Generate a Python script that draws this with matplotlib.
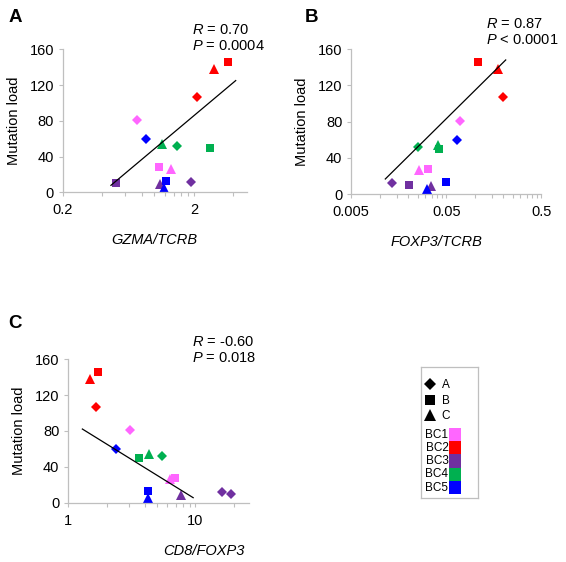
import matplotlib
matplotlib.use("Agg")
import matplotlib.pyplot as plt
from matplotlib.ticker import FixedLocator, FixedFormatter, NullFormatter
from matplotlib.patches import Rectangle

plt.rcParams['font.family'] = 'Liberation Sans'
plt.rcParams['mathtext.fontset'] = 'custom'
plt.rcParams['mathtext.rm'] = 'Liberation Sans'
plt.rcParams['mathtext.it'] = 'Liberation Sans:italic'

# tumour groups and biopsies A/B/C
groups = ["BC1", "BC1", "BC1", "BC2", "BC2", "BC2", "BC3", "BC3", "BC3",
          "BC4", "BC4", "BC4", "BC5", "BC5", "BC5"]
biopsy = ["A", "B", "C"] * 5
mutation_load = [81, 28, 26, 107, 146, 138, 12, 10, 9, 52, 50, 54, 60, 13, 5]

gzma_tcrb = [0.74, 1.08, 1.33, 2.1, 3.64, 2.86, 1.92, 0.505, 1.11,
             1.49, 2.66, 1.15, 0.855, 1.23, 1.18]
foxp3_tcrb = [0.070, 0.032, 0.0256, 0.197, 0.107, 0.174, 0.0135, 0.0202, 0.0342,
              0.0249, 0.0419, 0.0412, 0.0647, 0.05, 0.031]
cd8_foxp3 = [3.07, 6.90, 6.30, 1.66, 1.71, 1.47, 16.2, 19.1, 7.63,
             5.49, 3.59, 4.32, 2.36, 4.24, 4.24]

# trend lines as drawn in the figure
fit_a_x, fit_a_y = [0.465, 4.18], [7.8, 125]
fit_b_x, fit_b_y = [0.0114, 0.211], [16.6, 148.2]
fit_c_x, fit_c_y = [1.29, 9.59], [82.2, 5.6]

stats_a = ("0.70", "= 0.0004")
stats_b = ("0.87", "< 0.0001")
stats_c = ("-0.60", "= 0.018")

group_colors = {"BC1": "#FF66FF", "BC2": "#FF0000", "BC3": "#7030A0",
                "BC4": "#00B050", "BC5": "#0000FF"}
shape_marker = {"A": "D", "B": "s", "C": "^"}
shape_size = {"D": 4.9, "s": 6.2, "^": 7.0}

yticks = [0, 40, 80, 120, 160]
GRAY = "#BFBFBF"


def minor_ticks(lo, hi):
    t = []
    base = lo
    while base < hi:
        for k in range(2, 10):
            v = base * k
            if v < hi:
                t.append(v)
        base *= 10
    return t


def panel(rect, xs, fit_x, fit_y, xlim, xticks, xlabels, xlabel, label_x,
          stats, letter, letter_xy, stats_xy, override=None):
    ax = fig.add_axes(rect)
    for i, (x, y) in enumerate(zip(xs, mutation_load)):
        m = shape_marker[biopsy[i]]
        if override and i in override:
            m = override[i]
        ax.plot(x, y, marker=m, color=group_colors[groups[i]],
                markersize=shape_size[m], markeredgewidth=0, linestyle="none",
                zorder=2)
    ax.plot(fit_x, fit_y, color="black", lw=0.9, zorder=3)
    ax.set_xscale("log")
    ax.set_xlim(*xlim)
    ax.set_ylim(0, 160)
    ax.xaxis.set_major_locator(FixedLocator(xticks))
    ax.xaxis.set_major_formatter(FixedFormatter(xlabels))
    ax.xaxis.set_minor_locator(FixedLocator(minor_ticks(*xlim)))
    ax.xaxis.set_minor_formatter(NullFormatter())
    ax.set_yticks(yticks)
    for s in ["top", "right"]:
        ax.spines[s].set_visible(False)
    for s in ["left", "bottom"]:
        ax.spines[s].set_color(GRAY)
        ax.spines[s].set_linewidth(0.9)
    ax.tick_params(which="both", direction="out", length=3, color=GRAY,
                   labelsize=10.5, width=0.8)
    ax.tick_params(axis="x", pad=5)
    ax.set_ylabel("Mutation load", fontsize=10.5, labelpad=6)
    ax.set_xlabel(xlabel, fontsize=10.5, style="italic")
    ax.xaxis.set_label_coords(label_x, -0.285)
    fig.text(letter_xy[0] / W, 1 - letter_xy[1] / H, letter, fontsize=13.5,
             fontweight="bold", ha="center", va="center")
    fig.text(stats_xy[0] / W, 1 - stats_xy[1] / H,
             r"$\it{R}$ = " + stats[0], fontsize=10.5, ha="left", va="center")
    fig.text(stats_xy[0] / W, 1 - (stats_xy[1] + 16) / H,
             r"$\it{P}$ " + stats[1], fontsize=10.5, ha="left", va="center")
    return ax


W, H = 566, 562
fig = plt.figure(figsize=(W / 100, H / 100), dpi=100)

panel([63 / W, 1 - 192.3 / H, 184 / W, 143 / H], gzma_tcrb, fit_a_x, fit_a_y,
      (0.2, 5.1), [0.2, 2], ["0.2", "2"], "GZMA/TCRB", 0.495,
      stats_a, "A", (15, 17), (191.5, 30))
panel([351.3 / W, 1 - 194 / H, 190 / W, 144.7 / H], foxp3_tcrb, fit_b_x, fit_b_y,
      (0.005, 0.5), [0.005, 0.05, 0.5], ["0.005", "0.05", "0.5"],
      "FOXP3/TCRB", 0.446, stats_b, "B", (311, 18), (486, 23.5))
panel([68.3 / W, 1 - 502.7 / H, 181 / W, 143.4 / H], cd8_foxp3, fit_c_x, fit_c_y,
      (1, 26.5), [1, 10], ["1", "10"], "CD8/FOXP3", 0.75,
      stats_c, "C", (15, 324), (191.5, 341.5), override={7: "D"})

# legend box
lg = fig.add_axes([420.7 / W, 1 - 498.3 / H, 57 / W, 131 / H])
lg.set_xlim(0, 57)
lg.set_ylim(131, 0)
lg.set_xticks([])
lg.set_yticks([])
for s in lg.spines.values():
    s.set_color(GRAY)
    s.set_linewidth(0.9)
for j, b in enumerate(["A", "B", "C"]):
    m = shape_marker[b]
    yy = 17 + j * 15.5
    lg.plot(9.5, yy, marker=m, color="black", markersize=shape_size[m] + 1.0,
            markeredgewidth=0, linestyle="none")
    lg.text(21, yy + 1, b, fontsize=8.5, ha="left", va="center")
for j, g in enumerate(group_colors):
    y0 = 60.4 + j * 13.3
    lg.add_patch(Rectangle((28.3, y0), 12, 13.3, color=group_colors[g], lw=0))
    lg.text(27.8, y0 + 6.8, g, fontsize=8.5, ha="right", va="center")

fig.savefig("out.png", dpi=100)
